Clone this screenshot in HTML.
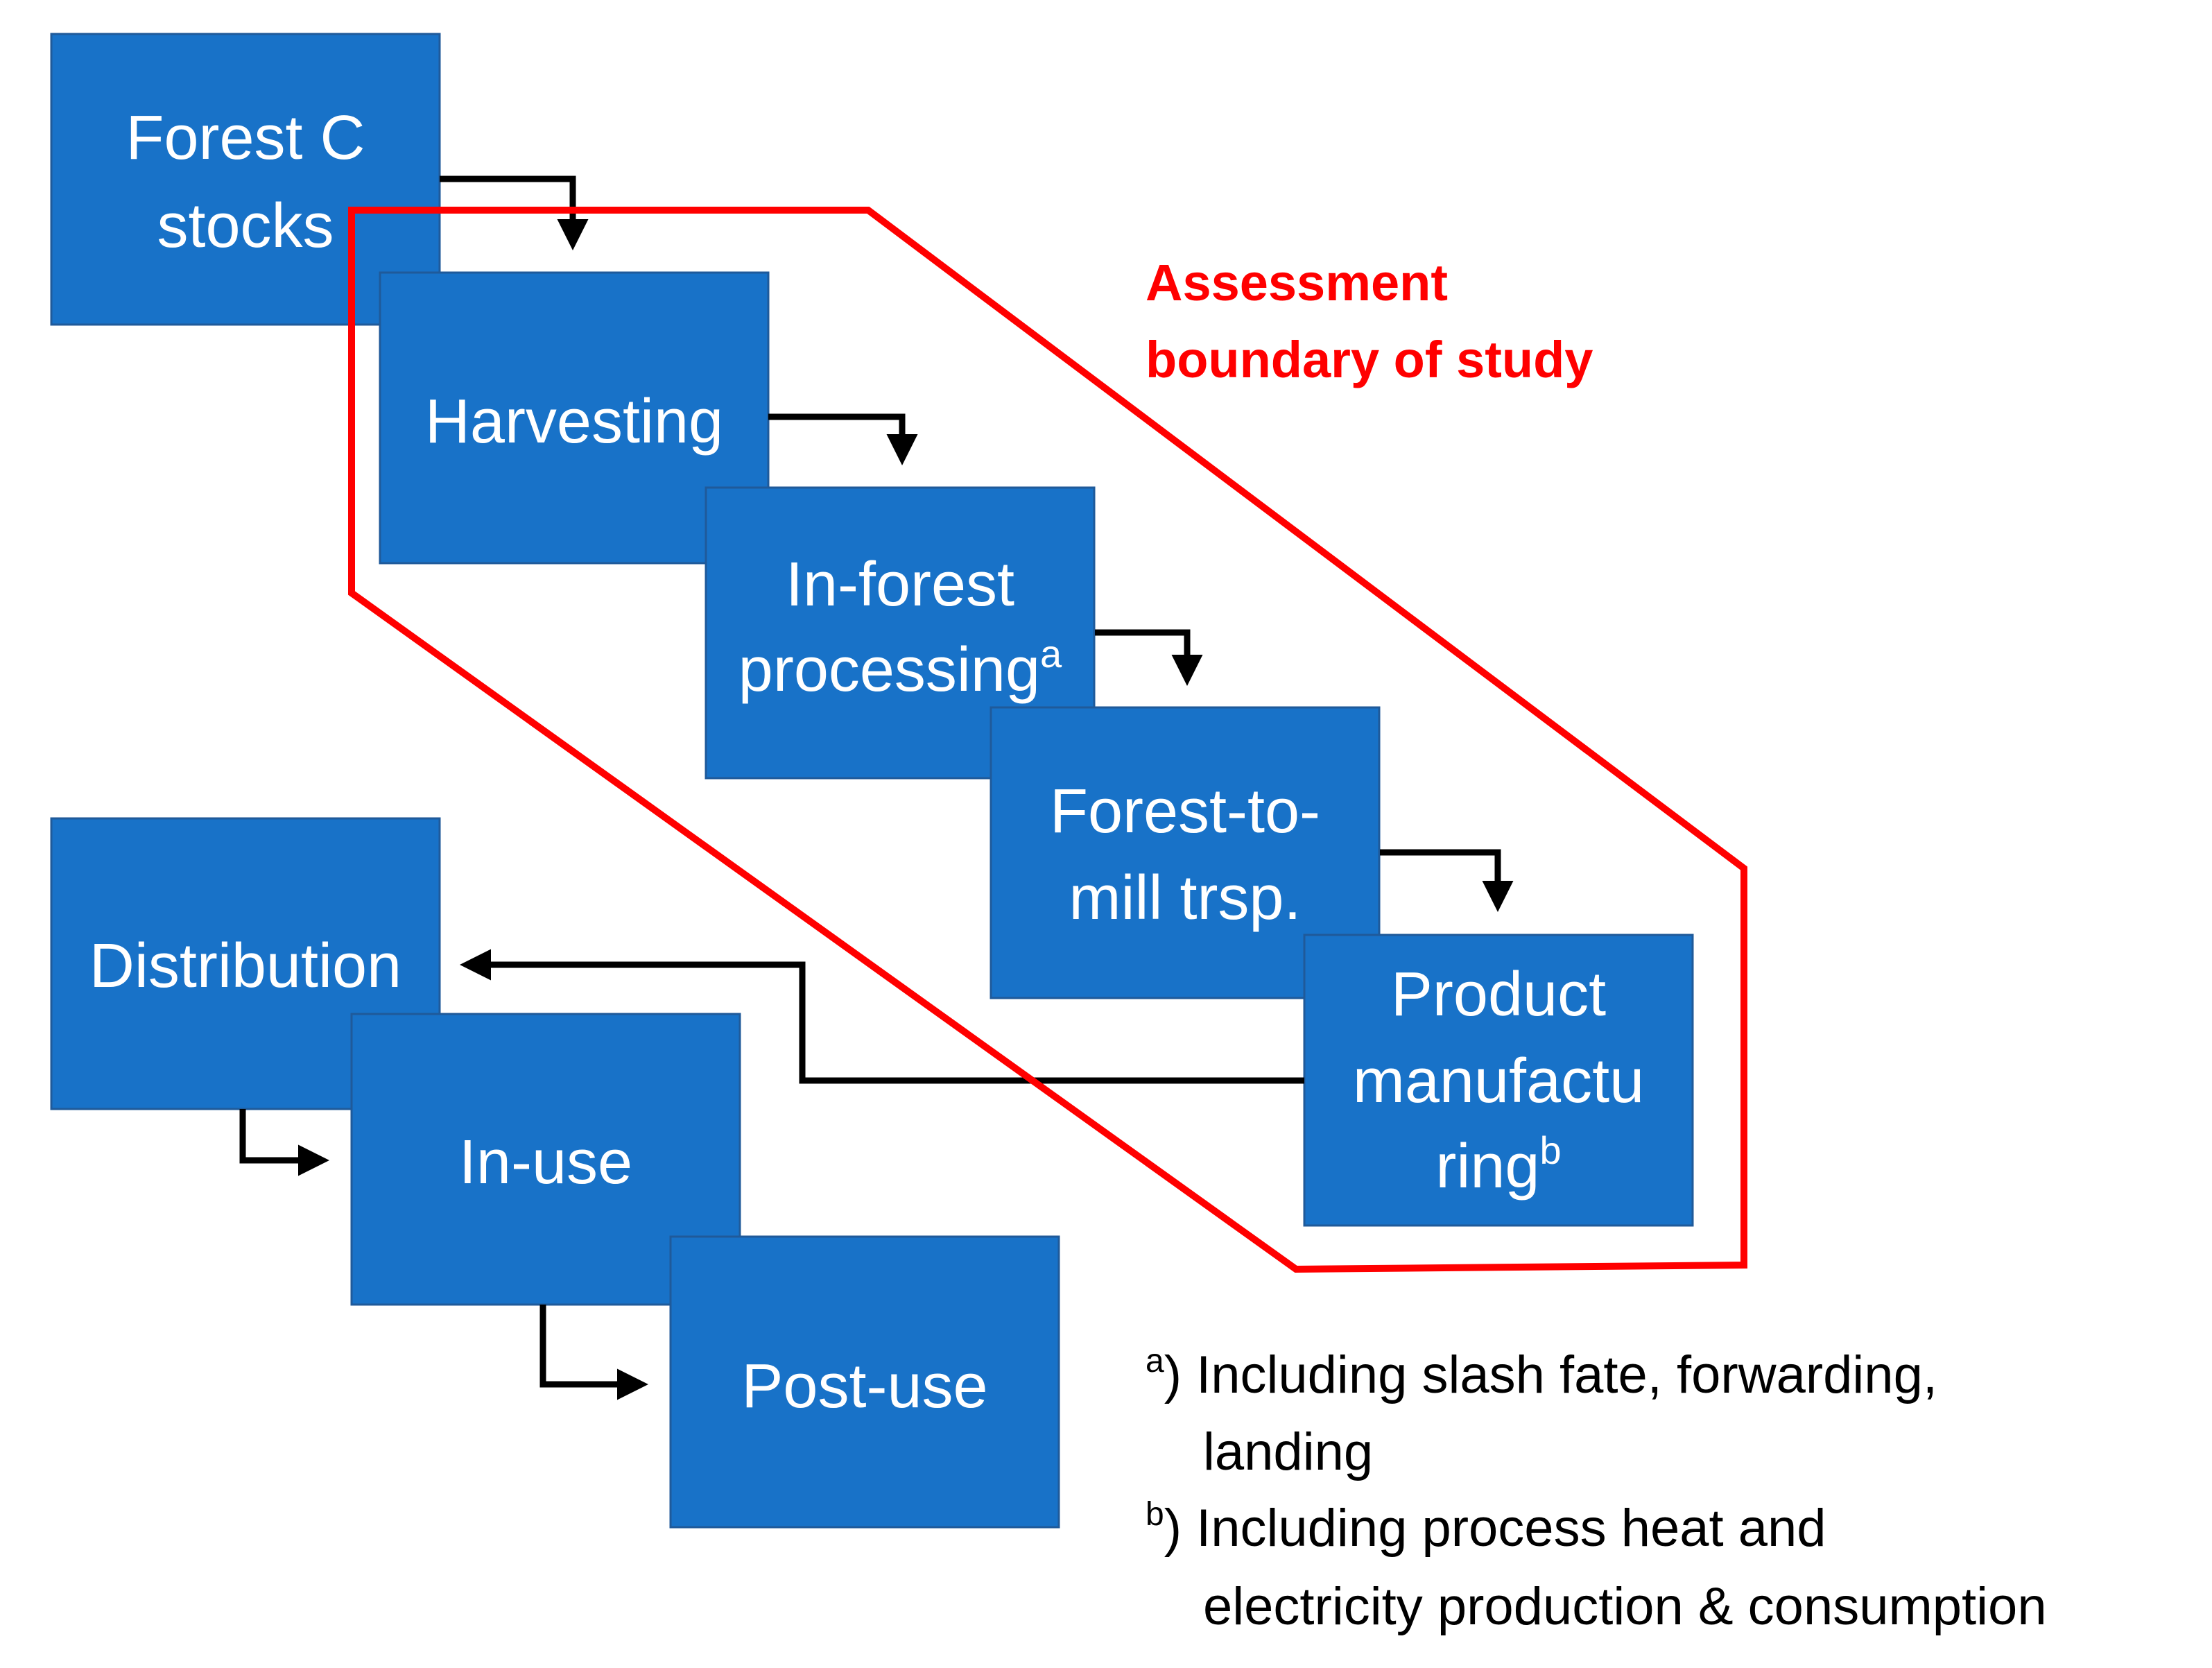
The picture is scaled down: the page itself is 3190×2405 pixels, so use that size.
<!DOCTYPE html>
<html><head><meta charset="utf-8"><style>html,body{margin:0;padding:0;background:#fff}svg{display:block}</style></head>
<body>
<svg width="3190" height="2405" viewBox="0 0 3190 2405" xmlns="http://www.w3.org/2000/svg" font-family="'Liberation Sans', sans-serif">
<defs>
<marker id="ah" markerWidth="5" markerHeight="5" refX="4" refY="2.5" orient="auto" markerUnits="strokeWidth">
<path d="M0,0 L5,2.5 L0,5 z" fill="#000"/>
</marker>
</defs>
<g fill="#1872C8" stroke="#1F5A9A" stroke-width="3">
<rect x="74" y="49" width="560" height="419"/>
<rect x="548" y="393" width="560" height="419"/>
<rect x="1018" y="703" width="560" height="419"/>
<rect x="1429" y="1020" width="560" height="419"/>
<rect x="1881" y="1348" width="560" height="419"/>
<rect x="74" y="1180" width="560" height="419"/>
<rect x="507" y="1462" width="560" height="419"/>
<rect x="967" y="1783" width="560" height="419"/>
</g>
<g fill="none" stroke="#000" stroke-width="9" marker-end="url(#ah)">
<polyline points="634,258 826,258 826,352"/>
<polyline points="1108,601 1301,601 1301,662"/>
<polyline points="1579,912 1712,912 1712,980"/>
<polyline points="1990,1229 2160,1229 2160,1306"/>
<polyline points="1881,1558 1157,1558 1157,1391 672,1391"/>
<polyline points="350,1599 350,1673 466,1673"/>
<polyline points="783,1881 783,1996 926,1996"/>
</g>
<polygon points="507,303 1252,303 2515,1252 2515,1824 1869,1830 507,855" fill="none" stroke="#FF0000" stroke-width="10"/>
<g fill="#fff" font-size="90" text-anchor="middle">
<text x="354" y="229">Forest C</text>
<text x="354" y="356">stocks</text>
<text x="828" y="638">Harvesting</text>
<text x="1298" y="873">In-forest</text>
<text x="1298" y="996">processing<tspan font-size="56" dy="-34">a</tspan></text>
<text x="1709" y="1200">Forest-to-</text>
<text x="1709" y="1325">mill trsp.</text>
<text x="2161" y="1464">Product</text>
<text x="2161" y="1589">manufactu</text>
<text x="2161" y="1712">ring<tspan font-size="56" dy="-34">b</tspan></text>
<text x="354" y="1423">Distribution</text>
<text x="787" y="1706">In-use</text>
<text x="1247" y="2029">Post-use</text>
</g>
<g fill="#FF0000" font-size="74" font-weight="bold">
<text x="1652" y="433">Assessment</text>
<text x="1652" y="544">boundary of study</text>
</g>
<g fill="#000" font-size="76">
<text x="1652" y="2008"><tspan font-size="48" dy="-30">a</tspan><tspan dy="30">) Including slash fate, forwarding,</tspan></text>
<text x="1735" y="2119">landing</text>
<text x="1652" y="2229"><tspan font-size="48" dy="-30">b</tspan><tspan dy="30">) Including process heat and</tspan></text>
<text x="1735" y="2342">electricity production &amp; consumption</text>
</g>
</svg>
</body></html>
